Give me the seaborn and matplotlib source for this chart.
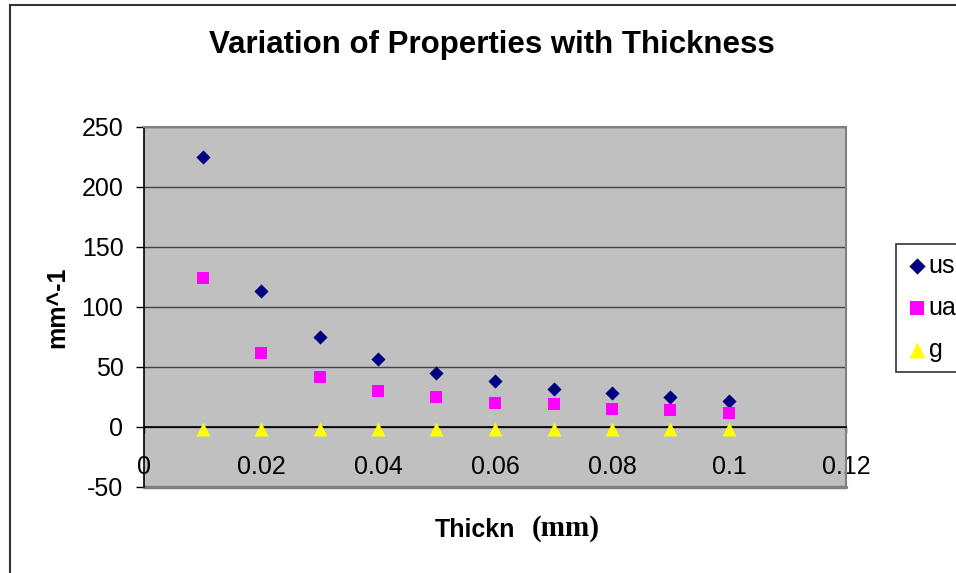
import matplotlib
matplotlib.use("Agg")
import matplotlib.pyplot as plt
import matplotlib.patches as mpatches
import seaborn as sns
import pandas as pd

# ---- data ----
thickness = [0.01, 0.02, 0.03, 0.04, 0.05, 0.06, 0.07, 0.08, 0.09, 0.10]
us = [225, 113, 75, 57, 45, 38, 32, 28, 25, 22]
ua = [124, 62, 42, 30, 25, 20, 19, 15, 14, 12]
g = [-2, -2, -2, -2, -2, -2, -2, -2, -2, -2]
series_names = ["us", "ua", "g"]
x_ticks = [0, 0.02, 0.04, 0.06, 0.08, 0.10, 0.12]
x_tick_labels = ["0", "0.02", "0.04", "0.06", "0.08", "0.1", "0.12"]
y_ticks = [-50, 0, 50, 100, 150, 200, 250]
title = "Variation of Properties with Thickness"
y_label = "mm^-1"

sns.set_style("white")
plt.rcParams["font.family"] = ["Liberation Sans", "DejaVu Sans"]
plt.rcParams["text.color"] = "black"
plt.rcParams["xtick.color"] = "black"
plt.rcParams["ytick.color"] = "black"

df = pd.DataFrame({
    "x": thickness * 3,
    "y": us + ua + g,
    "series": [series_names[0]] * len(us) + [series_names[1]] * len(ua) + [series_names[2]] * len(g),
})

W, H = 956, 573
fig = plt.figure(figsize=(W / 100, H / 100), dpi=100)
ax = fig.add_axes([144 / W, 1 - 487 / H, (846 - 144) / W, (487 - 127) / H])
ax.set_facecolor("#C0C0C0")

styles = {
    "us": dict(marker="D", color="#000080", s=52),
    "ua": dict(marker="s", color="#FF00FF", s=75),
    "g": dict(marker="^", color="#FFFF00", s=100),
}
for name in series_names:
    sub = df[df["series"] == name]
    st = styles[name]
    sns.scatterplot(data=sub, x="x", y="y", ax=ax, marker=st["marker"], color=st["color"],
                    s=st["s"], linewidth=0, label=name, zorder=3)

ax.set_xlim(0, 0.12)
ax.set_ylim(-50, 250)
ax.set_xticks(x_ticks)
ax.set_xticklabels(x_tick_labels)
ax.set_yticks(y_ticks)
ax.set_yticklabels([str(v) for v in y_ticks])

ax.grid(axis="y", color="#444444", linewidth=1.0, zorder=1)
ax.set_axisbelow(True)

for side in ["top", "right"]:
    ax.spines[side].set_color("#808080")
    ax.spines[side].set_linewidth(1.5)
ax.spines["left"].set_color("black")
ax.spines["left"].set_linewidth(1.2)
ax.spines["bottom"].set_position(("data", 0))
ax.spines["bottom"].set_color("black")
ax.spines["bottom"].set_linewidth(1.2)
ax.axhline(-50, color="#808080", linewidth=2.5, zorder=2, clip_on=False)

ax.tick_params(axis="x", direction="out", length=4.5, width=1, pad=15.5, labelsize=18, colors="black")
ax.tick_params(axis="y", direction="out", length=5.8, width=1, pad=9, labelsize=18, colors="black")
ax.tick_params(bottom=True, left=True)

ax.set_xlabel("")
ax.set_ylabel("")

fig.text(491.5 / W, 1 - 45 / H, title, ha="center", va="center", fontsize=22.5, fontweight="bold",
         color="black")
fig.text(57 / W, 1 - 307 / H, y_label, ha="center", va="center", rotation=90, fontsize=18,
         fontweight="bold", color="black")
fig.text(515 / W, 1 - 530 / H, "Thickn", ha="right", va="center", fontsize=18, fontweight="bold",
         color="black")
fig.text(532 / W, 1 - 528 / H, "(mm)", ha="left", va="center", fontsize=21, fontweight="bold",
         color="black", family=["Liberation Serif", "DejaVu Serif"])

leg = ax.legend(loc="upper left", bbox_to_anchor=(896 / W, 1 - 244 / H), bbox_transform=fig.transFigure,
                frameon=True, fancybox=False, edgecolor="black", fontsize=18, handletextpad=0.0,
                handlelength=0.9, labelspacing=0.72, borderpad=0.4, borderaxespad=0, markerscale=1.15)
leg.get_frame().set_linewidth(1.2)
for t in leg.get_texts():
    t.set_color("black")

border = mpatches.Rectangle((10 / W, -0.1), 1.2, 1.1 - 5 / H, transform=fig.transFigure,
                            fill=False, edgecolor="#333333", linewidth=1.5)
fig.patches.append(border)

fig.savefig("out.png", dpi=100)
